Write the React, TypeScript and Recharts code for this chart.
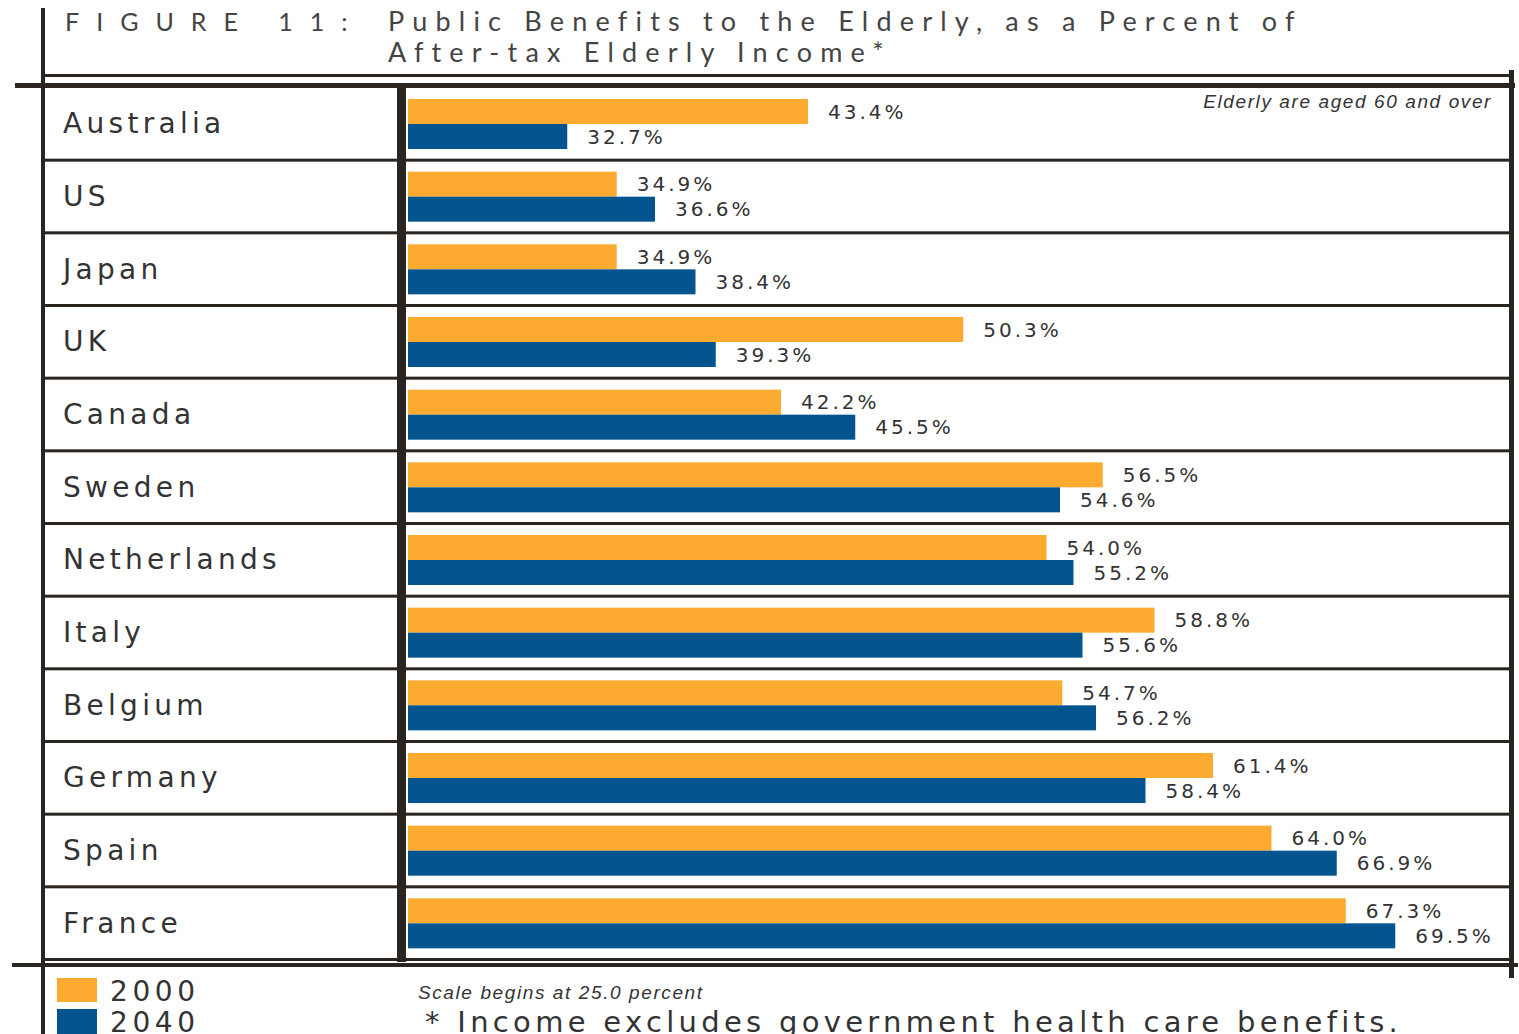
import React from 'react'
import { BarChart, Bar, XAxis, YAxis, LabelList } from 'recharts'

// values (percent of after-tax elderly income)
const countries = ['Australia', 'US', 'Japan', 'UK', 'Canada', 'Sweden', 'Netherlands', 'Italy', 'Belgium', 'Germany', 'Spain', 'France']
const values2000 = [43.4, 34.9, 34.9, 50.3, 42.2, 56.5, 54.0, 58.8, 54.7, 61.4, 64.0, 67.3]
const values2040 = [32.7, 36.6, 38.4, 39.3, 45.5, 54.6, 55.2, 55.6, 56.2, 58.4, 66.9, 69.5]
const seriesNames = ['2000', '2040']
const scaleStart = 25
const scaleEnd = 75

const ORANGE = '#FDAA30'
const BLUE = '#03548F'
const INK = '#2b2522'
const TEXT = '#333333'

const W = 1519
const H = 1034
const PLOT_TOP = 88
const PLOT_BOTTOM = 960
const ROW_H = (PLOT_BOTTOM - PLOT_TOP) / countries.length
const BAR_CLIP = 408 // bars disappear behind the column divider

const chartData = countries.map((country, i) => ({
  country,
  y2000: values2000[i],
  y2040: values2040[i],
}))

const fmt = (v: any) => `${Number(v).toFixed(1)}%`

function CountryTick(props: any) {
  const { y, payload } = props
  return (
    <g>
      <text x={63} y={y} dy={9} fill={TEXT} fontSize={28} fontFamily="DejaVu Sans" letterSpacing={4.3}>
        {payload.value}
      </text>
      <rect x={43} y={y + ROW_H / 2 - 2} width={1470} height={3} fill={INK} />
    </g>
  )
}

// same rect as the default bar, just starting right of the divider
function ClippedBar(props: any) {
  const { x, y, width, height, fill } = props
  const x0 = Math.max(x, BAR_CLIP)
  const w = Math.max(0, x + width - x0)
  return <rect x={x0} y={y} width={w} height={height} fill={fill} />
}

const labelStyle = { fill: TEXT, fontSize: 20, fontFamily: 'DejaVu Sans', letterSpacing: 3 }

export default function App() {
  return (
    <div style={{ position: 'absolute', left: 0, top: 0, width: W, height: H, background: '#fff', overflow: 'hidden' }}>
      <BarChart
        width={W}
        height={H}
        data={chartData}
        layout="vertical"
        margin={{ top: PLOT_TOP, right: 0, bottom: H - PLOT_BOTTOM, left: 0 }}
        barGap={0}
        barSize={25}
      >
        <XAxis type="number" domain={[scaleStart, scaleEnd]} hide allowDataOverflow />
        <YAxis type="category" dataKey="country" width={394} axisLine={false} tickLine={false} tick={CountryTick} interval={0} />
        <Bar dataKey="y2000" name={seriesNames[0]} fill={ORANGE} shape={ClippedBar} isAnimationActive={false}>
          <LabelList dataKey="y2000" position="right" offset={20} formatter={fmt} {...labelStyle} />
        </Bar>
        <Bar dataKey="y2040" name={seriesNames[1]} fill={BLUE} shape={ClippedBar} isAnimationActive={false}>
          <LabelList dataKey="y2040" position="right" offset={20} formatter={fmt} {...labelStyle} />
        </Bar>
      </BarChart>

      {/* frame, title, notes and legend drawn over the chart */}
      <svg width={W} height={H} style={{ position: 'absolute', left: 0, top: 0, pointerEvents: 'none' }}>
        {/* label column / bar area divider */}
        <rect x={397} y={PLOT_TOP} width={9} height={PLOT_BOTTOM - PLOT_TOP + 2} fill={INK} />

        {/* left and right verticals */}
        <rect x={41} y={8} width={4} height={H - 8} fill={INK} />
        <rect x={1509} y={70} width={5} height={908} fill={INK} />

        {/* top double rule */}
        <rect x={45} y={74} width={1468} height={3} fill={INK} />
        <rect x={15} y={83} width={1500} height={5} fill={INK} />

        {/* bottom double rule */}
        <rect x={12} y={963} width={1506} height={4} fill={INK} />

        {/* title */}
        <text x={65} y={31} fill="#444" fontSize={25} fontFamily="Lato" letterSpacing={17}>FIGURE 11:</text>
        <text x={388} y={31} fill="#444" fontSize={27} fontFamily="Lato" letterSpacing={8.2}>
          Public Benefits to the Elderly, as a Percent of
        </text>
        <text x={388} y={62} fill="#444" fontSize={27} fontFamily="Lato" letterSpacing={8.2}>
          After-tax Elderly Income*
        </text>

        {/* notes */}
        <text x={1492} y={108} textAnchor="end" fill={TEXT} fontSize={19} fontStyle="italic" fontFamily="Liberation Sans" letterSpacing={1.6}>
          Elderly are aged 60 and over
        </text>
        <text x={418} y={999} fill={TEXT} fontSize={19} fontStyle="italic" fontFamily="Liberation Sans" letterSpacing={1.6}>
          Scale begins at 25.0 percent
        </text>
        <text x={425} y={1032} fill={TEXT} fontSize={29} fontFamily="DejaVu Sans" letterSpacing={4.3}>
          * Income excludes government health care benefits.
        </text>

        {/* legend */}
        <rect x={57} y={978} width={40} height={24} fill={ORANGE} />
        <text x={110} y={1001} fill={TEXT} fontSize={28} fontFamily="DejaVu Sans" letterSpacing={4.6}>{seriesNames[0]}</text>
        <rect x={57} y={1009} width={40} height={25} fill={BLUE} />
        <text x={110} y={1032} fill={TEXT} fontSize={28} fontFamily="DejaVu Sans" letterSpacing={4.6}>{seriesNames[1]}</text>
      </svg>
    </div>
  )
}
